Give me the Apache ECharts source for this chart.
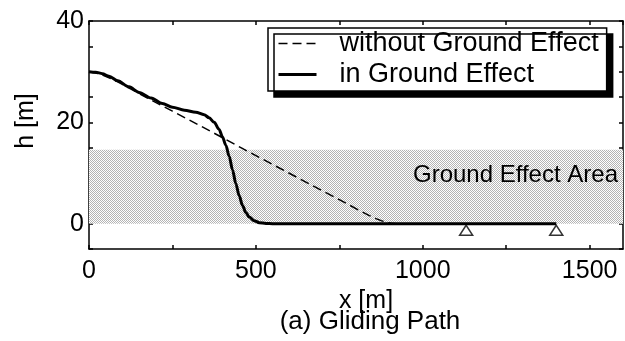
<!DOCTYPE html>
<html>
<head>
<meta charset="utf-8">
<script src="https://cdn.jsdelivr.net/npm/echarts@6/dist/echarts.min.js"></script>
<style>
  html, body { margin: 0; padding: 0; background: #fff; }
  #chart { width: 625px; height: 341px; }
</style>
</head>
<body>
<div id="chart"></div>
<script>
// Glide path without ground effect (dashed)
const xNoGround = [0, 30, 60, 86, 130, 186, 250, 331, 385, 465, 600, 700, 734, 809, 840, 860, 875, 890, 905, 920, 1130];
const hNoGround = [30, 29.6, 28.8, 28.0, 26.4, 24.4, 22.2, 19.4, 17.5, 14.65, 9.95, 6.45, 5.3, 2.65, 1.6, 1.0, 0.6, 0.3, 0.1, 0, 0];

// Glide path in ground effect (solid)
const xInGround = [0, 20, 40, 60, 86, 120, 150, 186, 220, 250, 286, 320, 345, 360, 375, 390, 400, 410, 420, 430, 440, 450, 460, 470, 480, 495, 510, 530, 550, 700, 1000, 1400];
const hInGround = [30, 29.9, 29.6, 29.1, 28.2, 27.0, 25.9, 24.8, 23.7, 23.0, 22.4, 22.0, 21.5, 20.9, 20.0, 18.6, 17.1, 15.5, 13.3, 10.6, 7.9, 5.5, 3.6, 2.2, 1.3, 0.6, 0.2, 0.05, 0, 0, 0, 0];

// Landing points
const xLanding = [1130, 1400];
const hLanding = [-1.3, -1.3];

// Ground effect band
const groundEffectTop = 14.6;
const groundEffectLabel = 'Ground Effect Area';

const xTickLabels = [0, 500, 1000, 1500];
const yTickLabels = [0, 20, 40];

const seriesNames = ['without Ground Effect', 'in Ground Effect'];

const FONT = '"Liberation Sans", Arial, Helvetica, sans-serif';

function zip(xs, ys) { return xs.map((x, i) => [x, ys[i]]); }

// stipple pattern for the shaded band
const pat = document.createElement('canvas');
pat.width = 2; pat.height = 2;
const pctx = pat.getContext('2d');
pctx.fillStyle = '#ffffff';
pctx.fillRect(0, 0, 2, 2);
pctx.fillStyle = '#b4b4b4';
pctx.fillRect(0, 0, 1, 1);
pctx.fillRect(1, 1, 1, 1);

const chart = echarts.init(document.getElementById('chart'), null, { renderer: 'canvas' });

const axisLineStyle = { show: true, onZero: false, lineStyle: { color: '#000', width: 1.5 } };
const tickStyle = { show: true, inside: true, length: 4, lineStyle: { color: '#000', width: 1.5 } };

const dashedStyle = { color: '#000', width: 1.5, type: [9, 5] };
const solidStyle = { color: '#000', width: 3, type: 'solid' };

const option = {
  animation: false,
  backgroundColor: '#fff',
  grid: { left: 89, right: 2, top: 21, bottom: 92, containLabel: false },
  legend: {
    data: [
      { name: seriesNames[0], lineStyle: dashedStyle },
      { name: seriesNames[1], lineStyle: solidStyle }
    ],
    orient: 'vertical',
    left: 268,
    top: 28,
    padding: [2, 8, 3, 9],
    itemGap: 4,
    itemWidth: 38,
    itemHeight: 26,
    selectedMode: false,
    itemStyle: { opacity: 0 },
    backgroundColor: '#fff',
    borderColor: '#000',
    borderWidth: 1.5,
    shadowColor: '#000',
    shadowBlur: 0,
    shadowOffsetX: 6,
    shadowOffsetY: 6,
    textStyle: { fontFamily: FONT, fontSize: 27, color: '#000', padding: [0, 0, 0, 18] }
  },
  xAxis: [
    {
      type: 'value', position: 'bottom', min: 0, max: 1600, interval: 250,
      name: 'x [m]', nameLocation: 'middle', nameGap: 35,
      nameTextStyle: { fontFamily: FONT, fontSize: 25, color: '#000', padding: [0, 0, 0, 20] },
      axisLine: axisLineStyle, axisTick: tickStyle, splitLine: { show: false },
      axisLabel: {
        fontFamily: FONT, fontSize: 25, color: '#000', margin: 10, showMaxLabel: false,
        formatter: v => xTickLabels.includes(v) ? String(v) : ''
      }
    },
    {
      type: 'value', position: 'top', min: 0, max: 1600, interval: 250,
      axisLine: axisLineStyle, axisTick: tickStyle, splitLine: { show: false },
      axisLabel: { show: false }
    }
  ],
  yAxis: [
    {
      type: 'value', position: 'left', min: -5, max: 40, interval: 5,
      name: 'h [m]', nameLocation: 'middle', nameGap: 50,
      nameTextStyle: { fontFamily: FONT, fontSize: 25, color: '#000', padding: [0, 0, 0, 28] },
      axisLine: axisLineStyle, axisTick: tickStyle, splitLine: { show: false },
      axisLabel: {
        fontFamily: FONT, fontSize: 25, color: '#000', margin: 5,
        formatter: v => yTickLabels.includes(v) ? String(v) : ''
      }
    },
    {
      type: 'value', position: 'right', min: -5, max: 40, interval: 5,
      axisLine: axisLineStyle, axisTick: tickStyle, splitLine: { show: false },
      axisLabel: { show: false }
    }
  ],
  series: [
    {
      name: seriesNames[0],
      type: 'line',
      data: zip(xNoGround, hNoGround),
      symbol: 'none',
      smooth: false,
      lineStyle: dashedStyle,
      itemStyle: { color: '#000' },
      z: 3,
      markArea: {
        silent: true,
        itemStyle: { color: { image: pat, repeat: 'repeat' } },
        label: {
          show: true, position: 'insideRight', distance: 5, offset: [0, -11],
          fontFamily: FONT, fontSize: 24, color: '#000'
        },
        data: [[{ yAxis: 0, name: groundEffectLabel }, { yAxis: groundEffectTop }]]
      }
    },
    {
      name: seriesNames[1],
      type: 'line',
      data: zip(xInGround, hInGround),
      symbol: 'none',
      smooth: 0.3,
      smoothMonotone: 'x',
      lineStyle: solidStyle,
      itemStyle: { color: '#000' },
      z: 4
    },
    {
      name: 'landing',
      type: 'scatter',
      data: zip(xLanding, hLanding),
      symbol: 'triangle',
      symbolSize: [13, 10],
      itemStyle: { color: '#fff', borderColor: '#000', borderWidth: 1.5 },
      z: 5
    }
  ],
  graphic: [
    {
      type: 'text', x: 370, y: 322,
      style: {
        text: '(a) Gliding Path', fontFamily: FONT, fontSize: 26, fill: '#000',
        align: 'center', verticalAlign: 'middle'
      }
    }
  ]
};

chart.setOption(option);
</script>
</body>
</html>
